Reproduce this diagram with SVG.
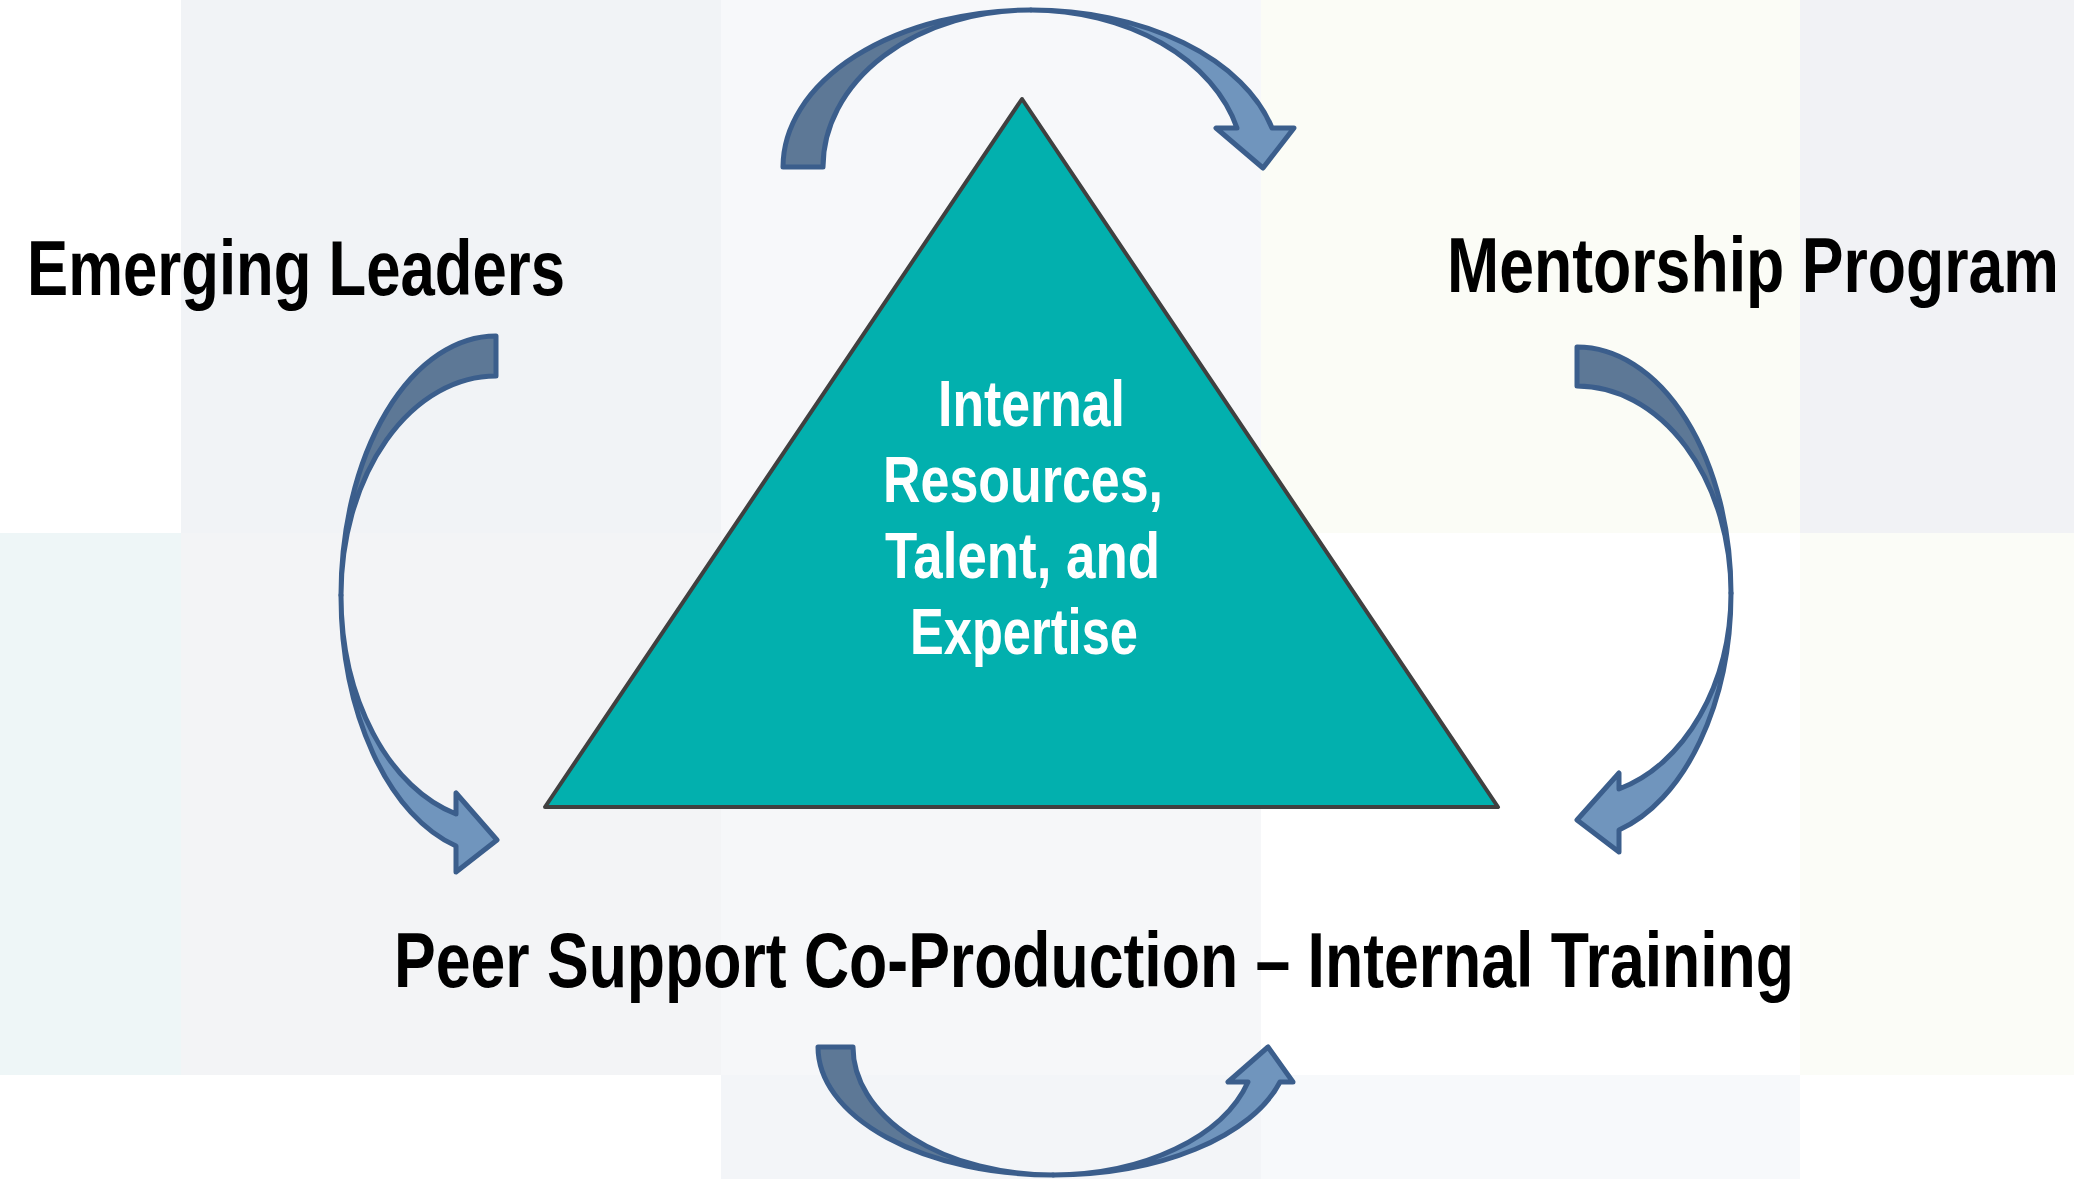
<svg xmlns="http://www.w3.org/2000/svg" width="2074" height="1179" viewBox="0 0 2074 1179">
  <style>
    .label { font-family: "Liberation Sans", Arial, sans-serif; font-weight: bold; font-size: 77px; fill: #000; }
    .core { font-family: "Liberation Sans", Arial, sans-serif; font-weight: bold; font-size: 64px; fill: #fff; }
    .tail { fill: #5d7896; stroke: #3b5e8c; stroke-width: 5; stroke-linejoin: round; }
    .head { fill: #7095bd; stroke: #3b5e8c; stroke-width: 5; stroke-linejoin: round; }
  </style>

  <!-- soft tiled backdrop -->
  <g id="backdrop">
    <rect x="0" y="0" width="2074" height="1179" fill="#ffffff"/>
    <rect x="181" y="0" width="540" height="533" fill="#f1f3f6"/>
    <rect x="721" y="0" width="540" height="533" fill="#f7f8fa"/>
    <rect x="1261" y="0" width="539" height="533" fill="#fbfcf6"/>
    <rect x="1800" y="0" width="274" height="533" fill="#f1f2f5"/>
    <rect x="0" y="533" width="181" height="542" fill="#eef6f7"/>
    <rect x="181" y="533" width="540" height="542" fill="#f3f4f6"/>
    <rect x="721" y="533" width="540" height="542" fill="#f6f7f9"/>
    <rect x="1800" y="533" width="274" height="542" fill="#fbfcf7"/>
    <rect x="721" y="1075" width="540" height="104" fill="#f3f5f8"/>
    <rect x="1261" y="1075" width="539" height="104" fill="#f7f9fb"/>
  </g>

  <!-- central triangle -->
  <g id="core">
    <polygon points="1022,99 1498,807 545,807" fill="#02b0ae" stroke="#404040" stroke-width="4" stroke-linejoin="round"/>
    <text class="core" x="938" y="426" textLength="187" lengthAdjust="spacingAndGlyphs">Internal</text>
    <text class="core" x="883" y="502" textLength="280" lengthAdjust="spacingAndGlyphs">Resources,</text>
    <text class="core" x="885" y="578" textLength="275" lengthAdjust="spacingAndGlyphs">Talent, and</text>
    <text class="core" x="910" y="654" textLength="228" lengthAdjust="spacingAndGlyphs">Expertise</text>
  </g>

  <g id="emerging-leaders">
    <text class="label" x="27" y="295" textLength="538" lengthAdjust="spacingAndGlyphs">Emerging Leaders</text>
  </g>
  <g id="mentorship-program">
    <text class="label" x="1447" y="292" textLength="612" lengthAdjust="spacingAndGlyphs">Mentorship Program</text>
  </g>
  <g id="peer-support">
    <text class="label" x="394" y="987" textLength="1400" lengthAdjust="spacingAndGlyphs">Peer Support Co-Production – Internal Training</text>
  </g>

  <!-- curved cycle arrows -->
  <g id="connectors">
    <g id="arrow-top">
      <path class="tail" d="M 783,167 A 248 157 0 0 1 1031,10 A 207 157 0 0 0 823,167 Z"/>
      <path class="head" d="M 1031,10 A 248 157 0 0 1 1272,128 L 1294,128 L 1263,168 L 1216,128 L 1237,128 A 213 157 0 0 0 1031,10 Z"/>
    </g>
    <g id="arrow-right">
      <path class="tail" d="M 1577,347 A 154 246 0 0 1 1731,593 A 154 207 0 0 0 1577,386 Z"/>
      <path class="head" d="M 1731,593 A 154 246 0 0 1 1619,830 L 1619,852 L 1577,820 L 1619,773 L 1619,789 A 154 204 0 0 0 1731,593 Z"/>
    </g>
    <g id="arrow-bottom">
      <path class="tail" d="M 818,1047 A 235 128 0 0 0 1053,1175 A 200 128 0 0 1 853,1047 Z"/>
      <path class="head" d="M 1053,1175 A 235 128 0 0 0 1280,1082 L 1293,1082 L 1268,1047 L 1228,1082 L 1248,1082 A 203 128 0 0 1 1053,1175 Z"/>
    </g>
    <g id="arrow-left">
      <path class="tail" d="M 496,336 A 155 259 0 0 0 341,595 A 155 219 0 0 1 496,376 Z"/>
      <path class="head" d="M 341,595 A 155 259 0 0 0 456,846 L 456,872 L 497,840 L 456,793 L 456,814 A 155 226 0 0 1 341,595 Z"/>
    </g>
  </g>
</svg>
